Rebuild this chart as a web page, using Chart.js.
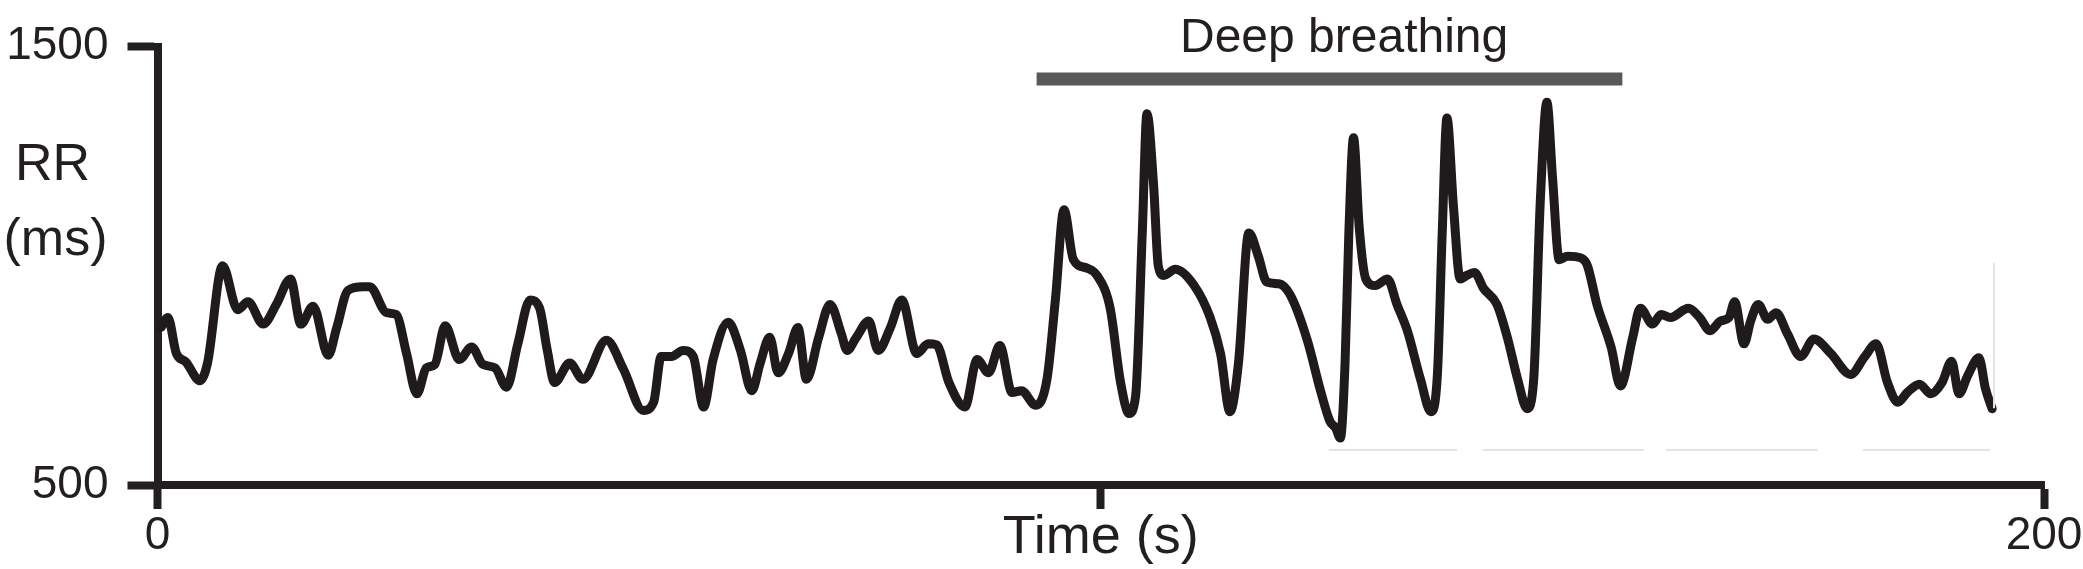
<!DOCTYPE html>
<html>
<head>
<meta charset="utf-8">
<script src="https://cdn.jsdelivr.net/npm/chart.js@4.4.1/dist/chart.umd.min.js"></script>
<style>
html,body{margin:0;padding:0;background:#fff;overflow:hidden}
#wrap{width:2083px;height:569px;position:relative}
</style>
</head>
<body>
<div id="wrap"><canvas id="c" width="2083" height="569"></canvas></div>
<script>
// ---- data ----
const timeS = [0.4,1.1,2.0,3.0,4.5,5.3,6.9,8.5,9.6,11.2,12.6,14.1,15.2,16.5,18.1,19.0,20.2,21.8,22.5,24.3,25.3,26.4,27.5,28.5,29.4,30.5,32.0,33.3,34.5,35.8,37.0,38.2,39.5,40.5,41.3,42.1,43.7,45.1,47.6,49.4,51.5,52.6,53.4,54.5,55.7,56.8,57.9,58.9,60.5,61.8,63.0,63.9,64.9,65.8,66.9,67.9,68.8,70.1,71.3,72.5,73.1,74.1,75.4,76.4,77.7,78.9,80.5,81.7,82.6,83.9,85.6,86.9,88.1,89.3,90.6,91.6,93.1,94.3,95.2,96.1,97.1,98.5,99.6,101.0,102.1,103.0,103.7,104.4,104.9,105.6,106.1,106.7,107.9,109.9,111.6,112.7,113.7,114.6,115.7,116.7,117.6,118.9,120.1,121.9,123.3,124.3,124.9,125.4,125.9,126.3,126.8,127.4,128.1,129.1,130.4,131.4,132.5,133.9,135.0,135.7,136.2,136.7,137.4,138.1,138.8,139.6,140.6,142.0,143.1,144.2,145.2,145.9,146.6,147.3,147.9,148.6,149.5,150.9,151.6,152.6,154.1,155.1,156.4,157.2,158.5,159.4,160.4,162.3,163.5,164.6,165.7,166.6,167.2,168.2,168.9,169.7,170.7,171.6,172.8,174.2,175.6,177.4,179.5,181.0,182.2,183.4,184.5,185.5,186.8,188.0,189.2,190.2,191.0,191.9,193.1,193.8,194.5];
const rrMs = [860,882,800,781,738,778,1000,900,918,867,912,970,867,908,796,859,944,952,952,893,889,800,708,767,775,863,786,815,775,767,723,822,922,904,810,734,778,741,830,764,670,689,793,793,807,793,678,786,871,807,715,778,837,756,800,859,741,837,912,845,807,837,874,807,859,922,800,822,820,734,678,786,756,818,711,715,682,741,925,1128,1014,995,978,903,734,663,704,1074,1347,1185,1000,978,992,955,882,800,667,778,1075,1022,963,959,933,830,715,645,630,607,778,1074,1292,1088,970,955,970,912,852,741,667,756,1074,1337,1133,970,978,985,948,912,837,741,674,741,1148,1373,1200,1014,1022,1018,1000,912,815,726,837,903,867,889,882,903,882,852,874,882,918,822,874,912,878,893,845,793,833,800,752,793,822,734,689,711,730,708,734,782,708,749,790,719,674];

const breathingTimes = [93.2, 155.3];
const breathingLevel = [1426, 1426];
const breathingLabel = 'Deep breathing';
const breathingLabelAt = 125.8;

// faint scan marks seen in the reference
const faintTimes = [124.2,137.8,null,140.5,157.6,null,159.9,176.0,null,180.8,194.3,null,194.7,194.7];
const faintLevel = [580,580,null,580,580,null,580,580,null,580,580,null,675,1007];

const xTickValues = [0, 100, 200];
const xTickLabels = ['0', '', '200'];
const yTickValues = [500, 1500];
const yTickLabels = ['500', '1500'];
const xTitle = 'Time (s)';
const yTitleLines = ['RR', '(ms)'];

// ---- styling ----
const ink = '#231f20';
const FAMILY = '"Liberation Sans", Arial, Helvetica, sans-serif';
Chart.defaults.font.family = FAMILY;
Chart.defaults.color = ink;

const toPoints = (xs, ys) => xs.map((t, i) => (t === null ? {x: null, y: null} : {x: t, y: ys[i]}));

const annotationText = {
  id: 'annotationText',
  afterDraw(chart) {
    const {ctx, chartArea, scales} = chart;
    const x = scales.x, y = scales.y;
    ctx.save();
    ctx.fillStyle = ink;
    ctx.textAlign = 'center';
    ctx.textBaseline = 'alphabetic';
    ctx.font = '48px ' + FAMILY;
    ctx.fillText(breathingLabel, x.getPixelForValue(breathingLabelAt), y.getPixelForValue(breathingLevel[0]) - 27);
    ctx.font = '52px ' + FAMILY;
    ctx.fillText(yTitleLines[0], chartArea.left - 105, 180);
    ctx.fillText(yTitleLines[1], chartArea.left - 102, 255);
    ctx.restore();
  }
};

new Chart(document.getElementById('c'), {
  type: 'line',
  data: {
    datasets: [
      {
        label: 'faint',
        data: toPoints(faintTimes, faintLevel),
        borderColor: '#e4e4e4',
        borderWidth: 2,
        pointRadius: 0,
        spanGaps: false,
        tension: 0
      },
      {
        label: 'RR',
        data: toPoints(timeS, rrMs),
        borderColor: '#1f1b1c',
        borderWidth: 9,
        pointRadius: 0,
        cubicInterpolationMode: 'monotone',
        borderJoinStyle: 'round',
        borderCapStyle: 'round'
      },
      {
        label: 'Deep breathing',
        data: toPoints(breathingTimes, breathingLevel),
        borderColor: '#58595b',
        borderWidth: 13,
        pointRadius: 0,
        borderCapStyle: 'butt',
        tension: 0
      }
    ]
  },
  options: {
    responsive: false,
    animation: false,
    devicePixelRatio: 1,
    layout: {padding: {top: 35, right: 39, left: 0, bottom: 0}},
    plugins: {legend: {display: false}, tooltip: {enabled: false}, title: {display: false}},
    scales: {
      x: {
        type: 'linear',
        position: 'bottom',
        min: 0,
        max: 200,
        afterBuildTicks: s => { s.ticks = xTickValues.map(v => ({value: v})); },
        afterFit: s => { s.height = 84; },
        ticks: {
          callback: v => xTickLabels[xTickValues.indexOf(v)],
          font: {size: 46, lineHeight: 1.2},
          color: ink,
          padding: 0,
          maxRotation: 0,
          autoSkip: false
        },
        grid: {display: true, drawOnChartArea: false, drawTicks: true, tickLength: 24, tickWidth: 8, tickColor: ink, color: ink},
        border: {display: true, color: ink, width: 8},
        title: {display: true, text: xTitle, font: {size: 54, lineHeight: 1.15}, color: ink, padding: 0}
      },
      y: {
        type: 'linear',
        min: 500,
        max: 1500,
        afterBuildTicks: s => { s.ticks = yTickValues.map(v => ({value: v})); },
        afterFit: s => { s.width = 157.5; },
        ticks: {
          callback: v => yTickLabels[yTickValues.indexOf(v)],
          font: {size: 46},
          color: ink,
          padding: 19,
          autoSkip: false
        },
        grid: {display: true, drawOnChartArea: false, drawTicks: true, tickLength: 30, tickWidth: 8, tickColor: ink, color: ink},
        border: {display: true, color: ink, width: 8},
        title: {display: false}
      }
    }
  },
  plugins: [annotationText]
});
</script>
</body>
</html>
